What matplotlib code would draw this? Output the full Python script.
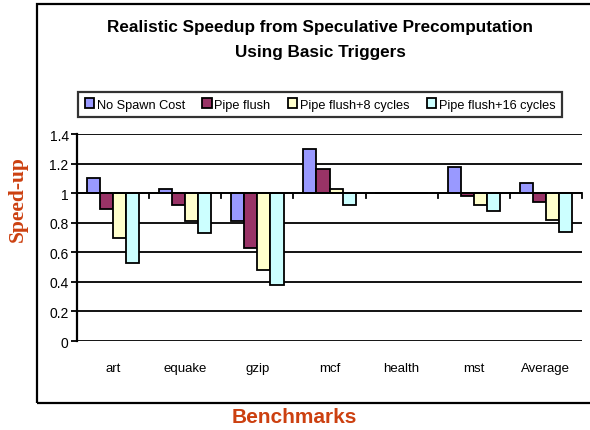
import matplotlib
matplotlib.use("Agg")
import matplotlib.pyplot as plt
from matplotlib.patches import Rectangle
import numpy as np

categories = ["art", "equake", "gzip", "mcf", "health", "mst", "Average"]
series_names = ["No Spawn Cost", "Pipe flush", "Pipe flush+8 cycles", "Pipe flush+16 cycles"]
no_spawn = [1.10, 1.03, 0.81, 1.30, 1.00, 1.18, 1.07]
pipe_flush = [0.89, 0.92, 0.63, 1.16, 1.00, 0.98, 0.94]
pipe_flush8 = [0.70, 0.81, 0.48, 1.03, 1.00, 0.92, 0.82]
pipe_flush16 = [0.53, 0.73, 0.38, 0.92, 1.00, 0.88, 0.74]
yticks = [0, 0.2, 0.4, 0.6, 0.8, 1, 1.2, 1.4]
ytick_labels = ["0", "0.2", "0.4", "0.6", "0.8", "1", "1.2", "1.4"]
colors = ["#9999FF", "#993366", "#FFFFCC", "#CCFFFF"]
accent = "#CC4010"

plt.rcParams['font.family'] = ['Liberation Sans', 'DejaVu Sans']

fig = plt.figure(figsize=(5.90, 4.31), dpi=100)
fig.patch.set_facecolor("white")

# outer frame (extends past the right edge)
frame = Rectangle((37 / 590, 1 - 404 / 431), 1.2, (404 - 5) / 431,
                  transform=fig.transFigure, fill=False, edgecolor="black",
                  linewidth=1.6, clip_on=False)
fig.patches.append(frame)

ax = fig.add_axes([77 / 590, 1 - 342 / 431, (582 - 77) / 590, (342 - 135) / 431])
ax.set_facecolor("none")

n = len(categories)
x = np.arange(n)
w = 1 / 5.5
data = [no_spawn, pipe_flush, pipe_flush8, pipe_flush16]
handles = []
for i, (vals, c, name) in enumerate(zip(data, colors, series_names)):
    vals = np.array(vals)
    h = ax.bar(x + (i - 1.5) * w, vals - 1, width=w, bottom=1, color=c,
               edgecolor="black", linewidth=1.3, label=name, zorder=3)
    handles.append(h)

ax.set_xlim(-0.5, n - 0.5)
ax.set_ylim(0, 1.4)
for yv in yticks:
    ax.axhline(yv, color="black", linewidth=1.3, zorder=1)
ax.axhline(1, color="black", linewidth=1.3, zorder=4)

# category separator ticks at y=1
for b in np.arange(0.5, n, 1.0):
    ax.plot([b, b], [1, 1 - 0.035], color="black", linewidth=1.3, zorder=4,
            clip_on=False)

for s in ["top", "right", "bottom"]:
    ax.spines[s].set_visible(False)
ax.spines["left"].set_linewidth(1.6)

ax.set_yticks(yticks)
ax.set_yticklabels(ytick_labels, fontsize=10)
ax.tick_params(axis="y", length=4, width=1.3, pad=2)
ax.set_xticks(x)
ax.set_xticklabels(categories, fontsize=9.5)
ax.tick_params(axis="x", length=0, pad=15)

leg = fig.legend(handles=handles, labels=series_names, loc="center",
                 bbox_to_anchor=((77 + 563) / 2 / 590, 1 - 105.5 / 431),
                 ncol=4, fontsize=9.2, frameon=True, fancybox=False,
                 handlelength=0.75, handleheight=0.75, handletextpad=0.2,
                 columnspacing=1.35, borderpad=0.5, borderaxespad=0)
leg.get_frame().set_edgecolor("black")
leg.get_frame().set_linewidth(1.6)

fig.text(320 / 590, 1 - 40 / 431,
         "Realistic Speedup from Speculative Precomputation\nUsing Basic Triggers",
         ha="center", va="center", fontsize=12.3, fontweight="bold",
         linespacing=1.85)

fig.text(294 / 590, 1 - 418 / 431, "Benchmarks", ha="center", va="center",
         fontsize=15, fontweight="bold", color=accent)
fig.text(18 / 590, 1 - 199 / 431, "Speed-up", ha="center", va="center",
         rotation=90, fontsize=15.5, fontweight="bold", color=accent,
         family=["Liberation Serif", "DejaVu Serif"])

fig.savefig("out.png", dpi=100)
